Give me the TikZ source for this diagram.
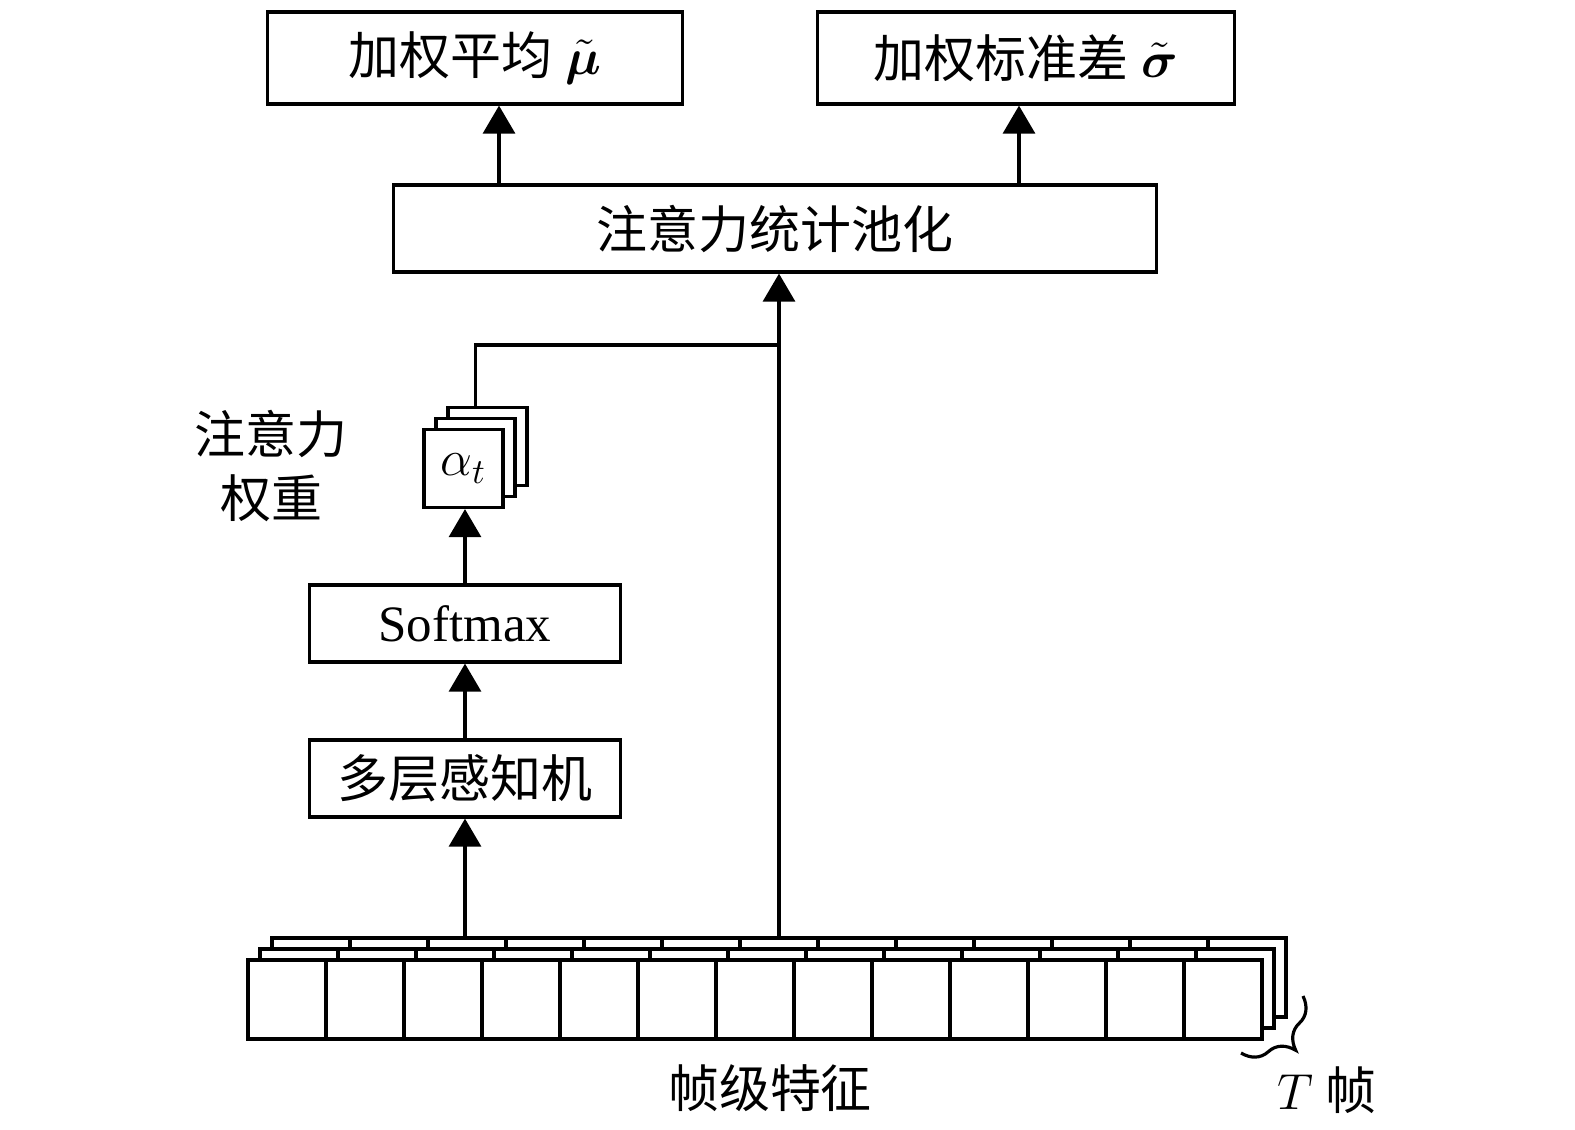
\documentclass[tikz,border=0pt]{standalone}
\usepackage{amsmath}
\usepackage{bm}
\usepackage{fontspec}
\setmainfont{Liberation Serif}
\newfontfamily\cjk{Noto Sans CJK SC}
\usetikzlibrary{arrows.meta,decorations.pathreplacing}
\tikzset{
  blk/.style={draw, line width=0.9pt, inner sep=0pt},
  cell/.style={draw, fill=white, line width=0.9pt, minimum width=0.78cm, minimum height=0.79cm, inner sep=0pt},
  wbox/.style={draw, fill=white, line width=0.9pt, minimum width=0.79cm, minimum height=0.78cm, inner sep=0pt},
  arr/.style={line width=0.9pt, -{Triangle[width=3.2mm,length=2.8mm]}},
  txt/.style={font=\fontsize{14.5pt}{18pt}\selectfont\cjk}
}
\begin{document}
\begin{tikzpicture}[x=0.01cm, y=-0.01cm, every node/.style={font=\fontsize{14.5pt}{18pt}\selectfont}]
\useasboundingbox (0,0) rectangle (1575,1129);
% output boxes
\node[blk, minimum width=4.15cm, minimum height=0.92cm] (mu) at (475,58) {{\cjk 加权平均} $\tilde{\bm{\mu}}$};
\node[blk, minimum width=4.16cm, minimum height=0.92cm] (sig) at (1026,58) {{\cjk 加权标准差} $\tilde{\bm{\sigma}}$};
\node[blk, minimum width=7.63cm, minimum height=0.87cm] (pool) at (775,228.5) {\cjk 注意力统计池化};
% attention branch
\node[blk, minimum width=3.10cm, minimum height=0.77cm] (sm) at (465,623.5) {Softmax};
\node[blk, minimum width=3.10cm, minimum height=0.77cm] (mlp) at (465,778.5) {\cjk 多层感知机};
\node[wbox] (a2) at (487.5,446.5) {};
\node[wbox] (a1) at (475.5,457.5) {};
\node[wbox] (a0) at (463.5,468.5) {$\alpha_t$};
\node[txt, align=center] (wlab) at (271,466) {注意力\\权重};
% frame level features, back layer first
\foreach \l in {2,1,0}
  \foreach \i in {0,...,12}
    \node[cell] (f\l-\i) at (287+78*\i+12*\l, 999.5-11*\l) {};
\node[txt] (feat) at (770,1088) {帧级特征};
\coordinate (br1) at (1303,996);
\coordinate (br2) at (1241,1053);
\draw[line width=0.9pt, decorate, decoration={brace, amplitude=3.5mm}] (br1) -- (br2);
\node (tlab) at (1327,1090) {$T$ {\cjk 帧}};
% connectors
\coordinate (mu in) at ([xshift=2.4mm]mu.south);
\coordinate (sig in) at ([xshift=-0.7mm]sig.south);
\draw[arr] (mu in |- pool.north) -- (mu in);
\draw[arr] (sig in |- pool.north) -- (sig in);
\draw[arr] (f2-6.north) -- (f2-6.north |- pool.south);
\coordinate (j) at (f2-6.north |- 0,345);
\draw[line width=0.9pt] (a1.north |- a2.north) |- (j);
\draw[arr] (mlp.south |- f2-2.north) -- (mlp.south);
\draw[arr] (mlp.north) -- (sm.south);
\draw[arr] (sm.north) -- (sm.north |- a0.south);
\end{tikzpicture}
\end{document}
